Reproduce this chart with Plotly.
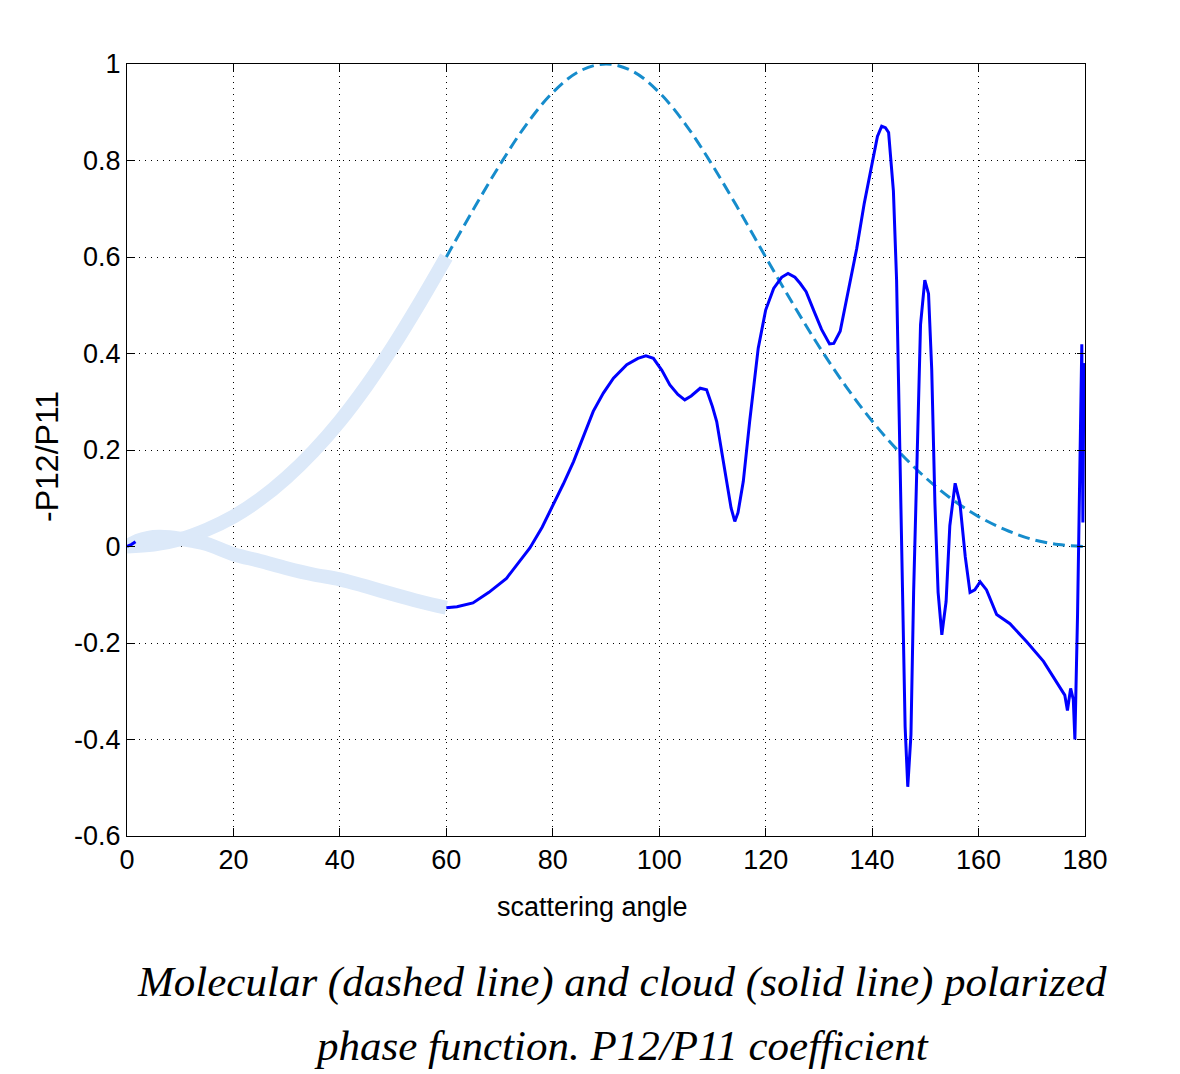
import plotly.graph_objects as go

# ---------------- data ----------------
# molecular curve (dashed), faded part 0-60 and visible part 60-180
mol_faded_x = [0, 5, 10, 15, 20, 25, 30, 35, 40, 45, 50, 55, 60]
mol_faded_y = [0.0, 0.004, 0.015, 0.035, 0.062, 0.098, 0.143, 0.197, 0.26, 0.333, 0.415, 0.505, 0.6]

mol_x = [60, 65, 70, 75, 80, 85, 90, 95, 100, 105, 110, 115, 120, 125, 130, 135,
         140, 145, 150, 155, 160, 165, 170, 175, 180]
mol_y = [0.6, 0.697, 0.79, 0.874, 0.941, 0.985, 1.0, 0.985, 0.941, 0.874, 0.79, 0.697,
         0.6, 0.505, 0.415, 0.333, 0.26, 0.197, 0.143, 0.098, 0.062, 0.035, 0.015, 0.004, 0.0]

# cloud curve (solid), faded part 0-60 and visible part 60-180
cloud_faded_x = [0, 2, 4, 6, 8, 10, 12, 15, 20, 25, 30, 35, 40, 45, 50, 55, 60]
cloud_faded_y = [0.0, 0.012, 0.018, 0.02, 0.019, 0.016, 0.012, 0.005, -0.016, -0.03, -0.045,
                 -0.058, -0.068, -0.083, -0.099, -0.114, -0.127]

cloud_start_x = [0, 0.8, 1.6]
cloud_start_y = [0.0, 0.004, 0.01]

cloud_x = [60.0, 62, 65, 68, 71.3, 73.5, 75.7, 78, 80.1, 82, 83.9, 85.8, 87.6, 89.5, 91.4,
           93.9, 96, 97.5, 98.9, 100.5, 102.0, 103.5, 104.8, 106, 107.7, 108.9, 110, 110.8,
           112.7, 113.5, 114.2, 114.8, 115.8, 117, 118.6, 120, 121.5, 123, 124.2, 125.5,
           126.5, 127.6, 129, 130.5, 132, 132.8, 134.0, 135.5, 137.1, 138.5, 140.2, 141.0,
           141.8, 142.5, 143.1, 144.0, 144.6, 145.1, 145.6, 145.9, 146.2, 146.7, 147.3,
           147.8, 148.4, 149.1, 149.9, 150.6, 151.2, 151.8, 152.4, 153.1, 153.9, 154.6,
           155.6, 156.5, 157.5, 158.4, 159.3, 160.3, 161.5, 163.4, 165.9, 169.0, 172.2,
           174.7, 176.2, 176.7, 177.3, 177.8, 178.1, 178.6, 179.1, 179.4, 179.6, 179.8, 180]
cloud_y = [-0.127, -0.125, -0.117, -0.095, -0.066, -0.035, -0.003, 0.04, 0.086, 0.13, 0.176,
           0.23, 0.28, 0.318, 0.349, 0.377, 0.39, 0.395, 0.39, 0.365, 0.335, 0.315, 0.304,
           0.312, 0.328, 0.325, 0.29, 0.259, 0.135, 0.08, 0.052, 0.07, 0.135, 0.26, 0.411,
           0.49, 0.535, 0.558, 0.566, 0.558, 0.545, 0.528, 0.49, 0.45, 0.42, 0.421, 0.446,
           0.53, 0.617, 0.71, 0.811, 0.85, 0.871, 0.868, 0.858, 0.737, 0.552, 0.275, -0.003,
           -0.234, -0.373, -0.498, -0.39, -0.095, 0.182, 0.46, 0.552, 0.524, 0.367, 0.09,
           -0.095, -0.183, -0.114, 0.043, 0.131, 0.09, -0.021, -0.095, -0.09, -0.073, -0.09,
           -0.141, -0.16, -0.197, -0.238, -0.28, -0.308, -0.34, -0.294, -0.317, -0.40,
           -0.141, 0.275, 0.419, 0.05, 0.38, 0.3]

x_ticks = [0, 20, 40, 60, 80, 100, 120, 140, 160, 180]
x_tick_labels = ["0", "20", "40", "60", "80", "100", "120", "140", "160", "180"]
y_ticks = [-0.6, -0.4, -0.2, 0, 0.2, 0.4, 0.6, 0.8, 1]
y_tick_labels = ["-0.6", "-0.4", "-0.2", "0", "0.2", "0.4", "0.6", "0.8", "1"]

x_title = "scattering angle"
y_title = "-P12/P11"
caption_1 = "Molecular (dashed line) and cloud (solid line) polarized"
caption_2 = "phase function. P12/P11 coefficient"

# ---------------- styles ----------------
FADED = "rgb(220,233,249)"
BLUE = "rgb(0,0,255)"
DASHBLUE = "rgb(22,140,204)"
AXFONT = "Liberation Sans, Arial, sans-serif"

fig = go.Figure()
fig.add_trace(go.Scatter(x=mol_faded_x, y=mol_faded_y, mode="lines", line_shape="spline",
                         line=dict(color=FADED, width=14), hoverinfo="skip"))
fig.add_trace(go.Scatter(x=cloud_faded_x, y=cloud_faded_y, mode="lines", line_shape="spline",
                         line=dict(color=FADED, width=14), hoverinfo="skip"))
fig.add_trace(go.Scatter(x=mol_x, y=mol_y, mode="lines", line_shape="spline",
                         line=dict(color=DASHBLUE, width=3, dash="12px,6px")))
fig.add_trace(go.Scatter(x=cloud_start_x, y=cloud_start_y, mode="lines",
                         line=dict(color=BLUE, width=3)))
fig.add_trace(go.Scatter(x=cloud_x, y=cloud_y, mode="lines",
                         line=dict(color=BLUE, width=3)))

axis_common = dict(
    showline=True, linecolor="black", linewidth=1, mirror="ticks",
    ticks="inside", ticklen=8, tickcolor="black", tickwidth=1,
    showgrid=True, gridcolor="black", gridwidth=1, griddash="1px,5px",
    zeroline=False,
    tickfont=dict(family=AXFONT, size=27, color="black"),
)

fig.update_xaxes(range=[0, 180], tickvals=x_ticks, ticktext=x_tick_labels, **axis_common)
fig.update_yaxes(range=[-0.6, 1], tickvals=y_ticks, ticktext=y_tick_labels, **axis_common)

fig.update_layout(
    width=1180, height=1074,
    margin=dict(l=127, r=95, t=64, b=238, autoexpand=False),
    paper_bgcolor="white", plot_bgcolor="white",
    showlegend=False,
    annotations=[
        dict(text=x_title, xref="paper", yref="paper", x=0.4864, y=0, yshift=-71,
             xanchor="center", yanchor="middle", showarrow=False,
             font=dict(family=AXFONT, size=27, color="black")),
        dict(text=y_title, xref="paper", yref="paper", x=0, xshift=-80, y=0.491,
             xanchor="center", yanchor="middle", textangle=-90, showarrow=False,
             font=dict(family=AXFONT, size=32, color="black")),
        dict(text="<i>" + caption_1 + "</i>", xref="paper", yref="paper", x=0.5167, y=0,
             yshift=-146, xanchor="center", yanchor="middle", showarrow=False,
             font=dict(family="Liberation Serif, Times New Roman, serif", size=43, color="black")),
        dict(text="<i>" + caption_2 + "</i>", xref="paper", yref="paper", x=0.5167, y=0,
             yshift=-209, xanchor="center", yanchor="middle", showarrow=False,
             font=dict(family="Liberation Serif, Times New Roman, serif", size=43, color="black")),
    ],
)

fig.write_html("out.html")
